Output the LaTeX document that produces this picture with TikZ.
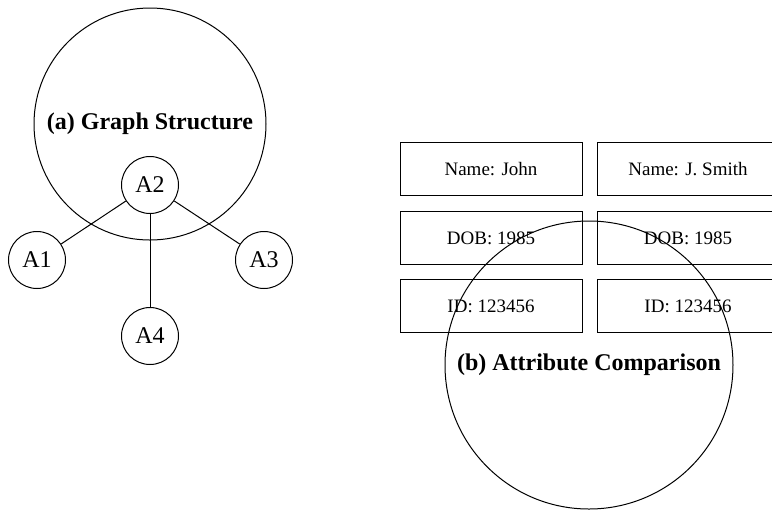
\documentclass[tikz,border=0pt]{standalone}
\usepackage{fontspec}
\setmainfont{Liberation Serif}
\usetikzlibrary{positioning}

\begin{document}
\begin{tikzpicture}[
	x=0.5pt, y=-0.5pt,
	line width=0.5pt,
	panel/.style={
		draw,
		circle,
		inner sep=0pt,
		font=\fontsize{12}{14}\selectfont\bfseries,
	},
	entity/.style={
		draw,
		circle,
		minimum size=28.5pt,
		inner sep=0pt,
		font=\fontsize{12}{14}\selectfont,
	},
	attr/.style={
		draw,
		minimum width=91pt,
		minimum height=26.5pt,
		inner sep=0pt,
		font=\fontsize{9.5}{11}\selectfont,
	},
	link/.style={black},
]
\useasboundingbox (0,0) rectangle (772,510);

% --- (a) Graph structure ---
\node[panel, minimum size=116pt] (ga) at (150,124) {(a) Graph Structure};

\node[entity] (a2) at (150,185) {A2};
\node[entity] (a1) at (37,260)  {A1};
\node[entity] (a3) at (264,260) {A3};
\node[entity] (a4) at (150,336) {A4};

\foreach \n in {a1,a3,a4}
	\draw[link] (a2) -- (\n);

% --- (b) Attribute comparison ---
\node[attr] (n1) at (491,169) {Name: John};
\node[attr] (n2) at (688,169) {Name: J. Smith};
\node[attr] (d1) at (491,238) {DOB: 1985};
\node[attr] (d2) at (688,238) {DOB: 1985};
\node[attr] (i1) at (491,306) {ID: 123456};
\node[attr] (i2) at (688,306) {ID: 123456};

\node[panel, minimum size=144pt] (gb) at (589,365) {(b) Attribute Comparison};

\end{tikzpicture}
\end{document}
